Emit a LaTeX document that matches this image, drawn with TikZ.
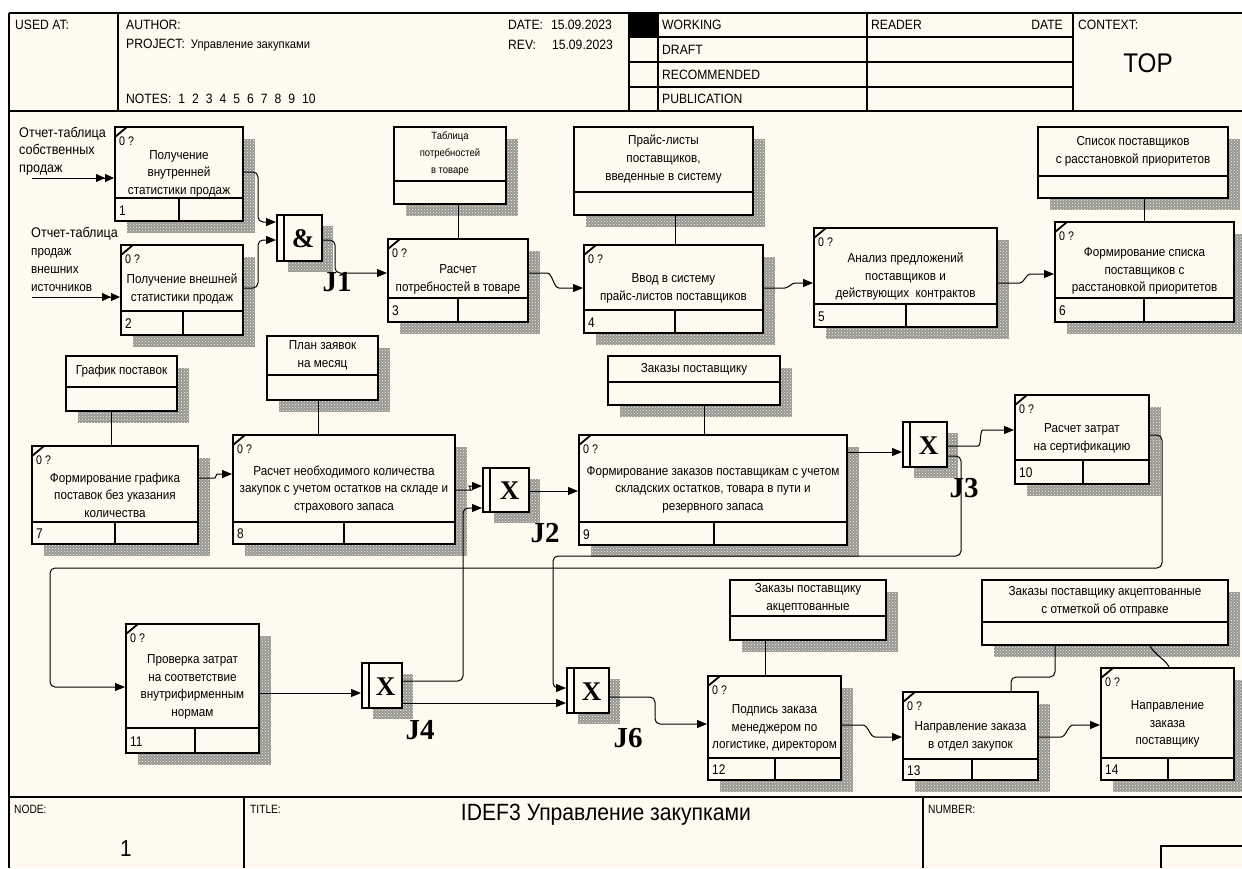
\documentclass[tikz,border=0pt]{standalone}
\usepackage{fontspec}
\setmainfont{Liberation Sans}
\newfontfamily\jfont{Liberation Serif}
\newfontfamily\narrowf{Liberation Sans}[FakeStretch=0.85]
\newfontfamily\boxf{Liberation Sans}[FakeStretch=0.9]
\usetikzlibrary{arrows.meta,patterns,fit}
\definecolor{bg}{RGB}{255,250,240}
\definecolor{hatch}{RGB}{150,150,145}
\tikzset{
  boxln/.style={draw=black,line width=2pt,fill=bg,inner sep=0pt},
  shdbase/.style={fill=hatch},
  shd/.style={pattern=crosshatch dots,pattern color=bg},
  frame/.style={line width=1.2pt},
  ln/.style={line width=1pt},
  arr/.style={line width=1pt,rounded corners=5pt,-{Triangle[length=10pt,width=8pt]}},
  dbl/.style={line width=1pt,-{Triangle[length=9pt,width=8pt]Triangle[length=9pt,width=8pt]}},
  btext/.style={align=center,inner sep=0pt,font=\boxf\fontsize{13}{17.5}\selectfont},
  rtext/.style={align=center,inner sep=0pt,font=\boxf\fontsize{13}{18}\selectfont},
  rsmall/.style={font=\boxf\fontsize{10.5}{17}\selectfont},
  rnorm/.style={},
  zero/.style={inner sep=0pt,font=\narrowf\fontsize{12.5}{13}\selectfont},
  num/.style={inner sep=0pt,font=\narrowf\fontsize{14}{15}\selectfont},
  hdr/.style={inner sep=0pt,font=\boxf\fontsize{13.5}{14}\selectfont},
  jsym/.style={inner sep=0pt,font=\jfont\bfseries\fontsize{27}{30}\selectfont},
  jlab/.style={inner sep=0pt,font=\jfont\bfseries\fontsize{29}{30}\selectfont},
  inl/.style={inner sep=0pt,align=left,font=\boxf\fontsize{14}{17.5}\selectfont},
  inlsmall/.style={inner sep=0pt,align=left,font=\boxf\fontsize{13}{18}\selectfont},
}
\newcommand{\shadow}[4]{%
  \fill[shdbase] (#1,#2) rectangle (#3,#4);
  \fill[shd] (#1,#2) rectangle (#3,#4);
}
\newcommand{\uob}[9]{%
  \shadow{#2+12}{#3+12}{#4+12}{#5+12}
  \node[boxln, fit={(#2,#3) (#4,#5)}] (#1) {};
  \draw[line width=2pt] (#2,#6) -- (#4,#6) (#7,#6) -- (#7,#5);
  \draw[line width=1.8pt] (#2,#3+10) -- (#2+12,#3);
  \node[zero,anchor=west] (#1z) at (#2+4,#3+14) {0 ?};
  \node[num,anchor=west] (#1n) at (#2+4,{(#6+#5)/2+1}) {#8};
  \node[btext] (#1t) at ({(#2+#4)/2},{(#3+#6)/2+11}) {#9};
}
\newcommand{\refb}[8]{%
  \shadow{#2+12}{#3+12}{#4+12}{#5+12}
  \node[boxln, fit={(#2,#3) (#4,#5)}] (#1) {};
  \draw[line width=2pt] (#2,#6) -- (#4,#6);
  \node[rtext,#8] (#1t) at ({(#2+#4)/2},{(#3+#6)/2}) {#7};
}
\newcommand{\junc}[6]{%
  \shadow{#2+11}{#3+11}{#4+11}{#5+11}
  \node[boxln, fit={(#2,#3) (#4,#5)}] (#1) {};
  \draw[line width=1.6pt] (#2+7,#3) -- (#2+7,#5);
  \node[jsym] (#1s) at ({(#2+7+#4)/2},{(#3+#5)/2+1}) {#6};
}
\begin{document}
\begin{tikzpicture}[x=1pt,y=-1pt]
\useasboundingbox (0,0) rectangle (1242,868);
\fill[white] (0,0) rectangle (1242,868);
\fill[bg] (9,13) rectangle (1242,868);
% ---------- header frame ----------
\draw[frame] (1242,13) -- (9,13);
\draw[line width=2.4pt] (9,13) -- (9,868);
\draw[frame] (9,111) -- (1242,111);
\draw[frame] (118,13) -- (118,111) (629,13) -- (629,111) (658,13) -- (658,111)
  (867,13) -- (867,111) (1073,13) -- (1073,111);
\draw[frame] (629,37) -- (1073,37) (629,62) -- (1073,62) (629,87) -- (1073,87);
\fill (629,13) rectangle (658,37);
\node[hdr,anchor=west] (usedat) at (15,25) {USED AT:};
\node[hdr,anchor=west] (author) at (126,25) {AUTHOR:};
\node[hdr,anchor=west] (project) at (126,45) {PROJECT:\hspace{6pt}{\fontsize{12.5}{13}\selectfont Управление закупками}};
\node[hdr,anchor=west] (notes) at (126,99) {NOTES:\hspace{7pt}1\hspace{7pt}2\hspace{7pt}3\hspace{7pt}4\hspace{7pt}5\hspace{7pt}6\hspace{7pt}7\hspace{7pt}8\hspace{7pt}9\hspace{7pt}10};
\node[hdr,anchor=west] (date) at (508,25) {DATE:\hspace{8pt}15.09.2023};
\node[hdr,anchor=west] (rev) at (508,45) {REV:\hspace{16pt}15.09.2023};
\node[hdr,anchor=west] (working) at (662,25) {WORKING};
\node[hdr,anchor=west] (draft) at (662,50) {DRAFT};
\node[hdr,anchor=west] (recom) at (662,75) {RECOMMENDED};
\node[hdr,anchor=west] (publ) at (662,99) {PUBLICATION};
\node[hdr,anchor=west] (reader) at (871,25) {READER};
\node[hdr,anchor=east] (rdate) at (1063,25) {DATE};
\node[hdr,anchor=west] (context) at (1078,25) {CONTEXT:};
\node[inner sep=0pt,font=\boxf\fontsize{27}{28}\selectfont] (top) at (1148,63) {TOP};
% ---------- footer ----------
\draw[frame] (9,797) -- (1242,797);
\draw[frame] (244,797) -- (244,868) (923,797) -- (923,868);
\draw[frame] (1161,868) -- (1161,846) -- (1242,846);
\node[hdr,anchor=west,font=\narrowf\fontsize{12}{12}\selectfont] (nodelab) at (14,809) {NODE:};
\node[hdr,anchor=west,font=\narrowf\fontsize{12}{12}\selectfont] (titlelab) at (250,809) {TITLE:};
\node[hdr,anchor=west,font=\narrowf\fontsize{12}{12}\selectfont] (numlab) at (928,809) {NUMBER:};
\node[inner sep=0pt,font=\boxf\fontsize{23.5}{24}\selectfont] (title) at (606,815) {IDEF3 Управление закупками};
\node[inner sep=0pt,font=\boxf\fontsize{23}{24}\selectfont] (nodenum) at (126,849) {1};
% ---------- referents ----------
\refb{r1}{394}{127}{506}{204}{181}{Таблица\\потребностей\\в товаре}{rsmall}
\refb{r2}{574}{127}{753}{215}{192}{Прайс-листы\\поставщиков,\\введенные в систему}{rnorm}
\refb{r3}{1038}{127}{1228}{198}{176}{Список поставщиков\\с расстановкой приоритетов}{rnorm}
\refb{r4}{66}{356}{177}{411}{387}{График поставок}{rnorm}
\refb{r5}{267}{336}{378}{400}{375}{План заявок\\на месяц}{rnorm}
\refb{r6}{608}{356}{780}{405}{382}{Заказы поставщику}{rnorm}
\refb{r7}{730}{580}{886}{640}{616}{Заказы поставщику\\акцептованные}{rnorm}
\refb{r8}{982}{580}{1228}{645}{622}{Заказы поставщику акцептованные\\с отметкой об отправке}{rnorm}
% ---------- units of behaviour ----------
\uob{b1}{115}{127}{243}{221}{198}{179}{1}{Получение\\внутренней\\статистики продаж}
\uob{b2}{121}{245}{243}{335}{311}{183}{2}{Получение внешней\\статистики продаж}
\uob{b3}{388}{239}{528}{322}{298}{458}{3}{Расчет\\потребностей в товаре}
\uob{b4}{584}{245}{763}{333}{310}{675}{4}{Ввод в систему\\прайс-листов поставщиков}
\uob{b5}{814}{228}{997}{327}{304}{906}{5}{Анализ предложений\\поставщиков и\\действующих\ \ контрактов}
\uob{b6}{1055}{222}{1234}{322}{298}{1144}{6}{Формирование списка\\поставщиков с\\расстановкой приоритетов}
\uob{b7}{32}{446}{198}{544}{522}{115}{7}{Формирование графика\\поставок без указания\\количества}
\uob{b8}{233}{435}{455}{544}{522}{344}{8}{Расчет необходимого количества\\закупок с учетом остатков на складе и\\страхового запаса}
\uob{b9}{579}{435}{847}{545}{522}{714}{9}{Формирование заказов поставщикам с учетом\\складских остатков, товара в пути и\\резервного запаса}
\uob{b10}{1015}{395}{1149}{484}{460}{1083}{10}{Расчет затрат\\на сертификацию}
\uob{b11}{126}{624}{259}{753}{728}{195}{11}{Проверка затрат\\на соответствие\\внутрифирменным\\нормам}
\uob{b12}{708}{676}{841}{780}{758}{775}{12}{Подпись заказа\\менеджером по\\логистике, директором}
\uob{b13}{903}{692}{1038}{780}{759}{972}{13}{Направление заказа\\в отдел закупок}
\uob{b14}{1101}{668}{1234}{780}{758}{1168}{14}{Направление\\заказа\\поставщику}
% ---------- junctions ----------
\junc{j1}{277}{215}{322}{261}{\&}
\junc{j2}{483}{468}{529}{512}{X}
\junc{j3}{903}{422}{947}{467}{X}
\junc{j4}{362}{663}{402}{708}{X}
\junc{j6}{567}{668}{609}{713}{X}
\node[jlab] (j1l) at (337,282) {J1};
\node[jlab] (j2l) at (545,533) {J2};
\node[jlab] (j3l) at (964,488) {J3};
\node[jlab] (j4l) at (420,730) {J4};
\node[jlab] (j6l) at (628,738) {J6};
% ---------- input labels ----------
\node[inl,anchor=west] (lab1) at (19,151) {Отчет-таблица\\собственных\\продаж};
\node[inner sep=0pt,anchor=west,font=\boxf\fontsize{14}{15}\selectfont] (lab2a) at (31,234) {Отчет-таблица};
\node[inlsmall,anchor=west] (lab2b) at (31,270) {продаж\\внешних\\источников};
\coordinate (src1) at (32,178);
\coordinate (src2) at (32,297);
\draw[dbl] (src1) -- (b1.west |- src1);
\draw[dbl] (src2) -- (b2.west |- src2);
% ---------- referent links ----------
\draw[ln] (b3.north) -- (b3.north |- r1.south);
\draw[ln] (b4.north -| 675,0) -- (r2.south -| 675,0);
\draw[ln] (b6.north) -- (b6.north |- r3.south);
\draw[ln] (b7.north -| 111,0) -- (r4.south -| 111,0);
\draw[ln] (b8.north -| 318,0) -- (r5.south -| 318,0);
\draw[ln] (b9.north -| 704,0) -- (r6.south -| 704,0);
\draw[ln] (b12.north -| 765,0) -- (r7.south -| 765,0);
\draw[ln,rounded corners=5pt] (b13.north -| 1011,0) -- (1011,677) -- (1055,677) -- (r8.south -| 1055,0);
\draw[ln] (b14.north -| 1169,0) .. controls (1166,660) and (1156,656) .. (r8.south -| 1150,0);
% ---------- precedence links ----------
\draw[arr] (b1.east |- 0,172) -- (258,172) -- (258,222) -- (j1.west |- 0,222);
\draw[arr] (b2.east |- 0,288) -- (258,288) -- (258,240) -- (j1.west |- 0,240);
\draw[arr] (j1.east |- 0,240) -- (335,240) -- (335,273) -- (b3.west |- 0,273);
\draw[arr] (b3.east |- 0,273) -- (542,273) to[out=0,in=180] (564,288) -- (b4.west |- 0,288);
\draw[arr] (b4.east |- 0,288) -- (780,288) to[out=0,in=180] (800,283) -- (b5.west |- 0,283);
\draw[arr] (b5.east |- 0,283) -- (1015,283) to[out=0,in=180] (1035,274) -- (b6.west |- 0,274);
\draw[arr] (b7.east |- 0,478) -- (210,478) to[out=0,in=180] (222,474) -- (b8.west |- 0,474);
\draw[arr] (b8.east |- 0,490) -- (466,490) to[out=0,in=180] (474,486) -- (j2.west |- 0,486);
\draw[arr] (j4.east |- 0,681) -- (463,681) -- (463,508) -- (j2.west |- 0,508);
\draw[arr] (j2.east |- 0,491) -- (b9.west |- 0,491);
\draw[arr] (b9.east |- 0,452) -- (j3.west |- 0,452);
\draw[arr] (j3.east |- 0,446) -- (973,446) to[out=0,in=180] (988,430) -- (b10.west |- 0,430);
\draw[arr] (j3.east |- 0,456) -- (961,456) -- (961,556) -- (553,556) -- (553,688) -- (j6.west |- 0,688);
\draw[arr] (b10.east |- 0,435) -- (1162,435) -- (1162,568) -- (50,568) -- (50,687) -- (b11.west |- 0,687);
\draw[arr] (b11.east |- 0,693) -- (j4.west |- 0,693);
\draw[arr] (j4.east |- 0,703) -- (j6.west |- 0,703);
\draw[arr] (j6.east |- 0,697) -- (655,697) -- (655,724) -- (b12.west |- 0,724);
\draw[arr] (b12.east |- 0,725) -- (858,725) to[out=0,in=180] (880,737) -- (b13.west |- 0,737);
\draw[arr] (b13.east |- 0,737) -- (1056,737) to[out=0,in=180] (1078,725) -- (b14.west |- 0,725);
\end{tikzpicture}
\end{document}
